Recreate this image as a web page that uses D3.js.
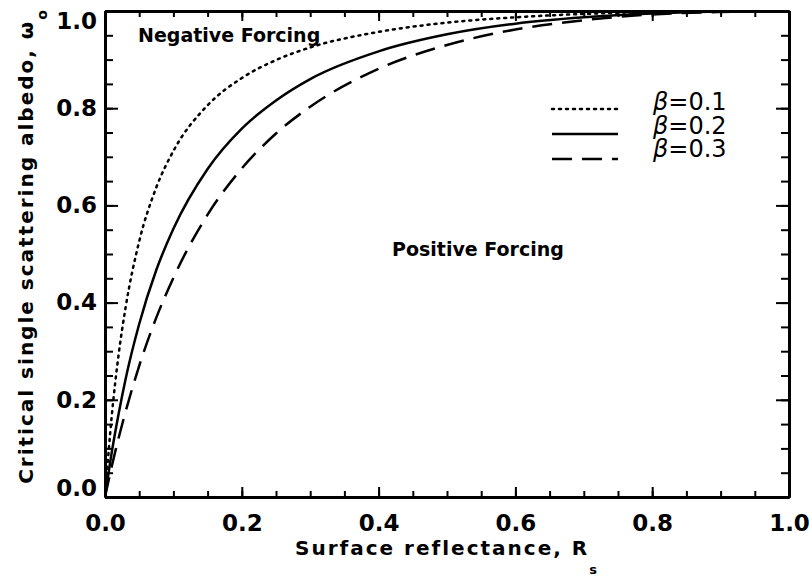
<!DOCTYPE html>
<html>
<head>
<meta charset="utf-8">
<script src="https://cdn.jsdelivr.net/npm/d3@7"></script>
<style>
  body { margin: 0; background: #fff; }
  svg { display: block; }
  text { font-family: "DejaVu Sans", sans-serif; fill: #000; }
</style>
</head>
<body>
<svg id="chart" width="809" height="579"></svg>
<script>
// surface reflectance values where the curves were read
const reflectance = [0, 0.01, 0.02, 0.03, 0.05, 0.075, 0.1, 0.15, 0.2, 0.25, 0.3, 0.4, 0.5, 0.6, 0.7, 0.8, 0.9, 1.0];
// critical single scattering albedo for each beta
const beta01 = [0, 0.169, 0.294, 0.389, 0.526, 0.637, 0.712, 0.806, 0.862, 0.899, 0.925, 0.957, 0.976, 0.987, 0.994, 0.998, 0.999, 1.0];
const beta02 = [0, 0.093, 0.172, 0.242, 0.356, 0.467, 0.552, 0.675, 0.758, 0.816, 0.860, 0.917, 0.952, 0.974, 0.987, 0.995, 0.999, 1.0];
const beta03 = [0, 0.064, 0.122, 0.175, 0.270, 0.369, 0.451, 0.581, 0.676, 0.748, 0.803, 0.881, 0.930, 0.962, 0.981, 0.993, 0.998, 1.0];
const seriesNames = ["=0.1", "=0.2", "=0.3"];
const majorTicks = [0, 0.2, 0.4, 0.6, 0.8, 1.0];

const plotLeft = 105, plotRight = 789, plotTop = 11, plotBottom = 497;
const svg = d3.select("#chart");

const x = d3.scaleLinear().domain([0, 1]).range([plotLeft, plotRight]);
const y = d3.scaleLinear().domain([0, 1]).range([plotBottom, plotTop]);
const minorTicks = d3.range(0, 1.0001, 0.05);
const fmt = d3.format(".1f");

const series = [
    {name: seriesNames[0], values: beta01, dash: "2,5", cap: "round"},
    {name: seriesNames[1], values: beta02, dash: null, cap: "butt"},
    {name: seriesNames[2], values: beta03, dash: "20,10", cap: "butt"}
];

svg.append("clipPath").attr("id", "plot")
    .append("rect")
    .attr("x", plotLeft).attr("y", plotTop)
    .attr("width", plotRight - plotLeft).attr("height", plotBottom - plotTop);

const line = d3.line()
    .x((d, i) => x(reflectance[i]))
    .y((d) => y(d))
    .curve(d3.curveMonotoneX);

svg.append("g").attr("clip-path", "url(#plot)")
    .selectAll("path")
    .data(series)
    .enter().append("path")
    .attr("d", (d) => line(d.values))
    .attr("fill", "none")
    .attr("stroke", "#000")
    .attr("stroke-width", 2.5)
    .attr("stroke-linecap", (d) => d.cap)
    .attr("stroke-dasharray", (d) => d.dash);

// axes, ticks pointing inwards on all four sides
const styleAxis = (g) => {
    g.select(".domain").attr("stroke-width", 3);
    g.selectAll(".tick line").attr("stroke-width", 2);
    g.selectAll("text")
        .style("font-family", "'DejaVu Sans', sans-serif")
        .style("font-weight", "bold")
        .style("font-size", "23px");
};

svg.append("g")
    .attr("transform", `translate(0,${plotBottom})`)
    .call(d3.axisBottom(x).tickValues(majorTicks).tickFormat(fmt)
        .tickSizeInner(-10).tickSizeOuter(0).tickPadding(18))
    .call(styleAxis);
svg.append("g")
    .attr("transform", `translate(0,${plotBottom})`)
    .call(d3.axisBottom(x).tickValues(minorTicks).tickFormat("")
        .tickSizeInner(-6).tickSizeOuter(0))
    .call(styleAxis);

svg.append("g")
    .attr("transform", `translate(0,${plotTop})`)
    .call(d3.axisTop(x).tickValues(majorTicks).tickFormat("")
        .tickSizeInner(-10).tickSizeOuter(0))
    .call(styleAxis);
svg.append("g")
    .attr("transform", `translate(0,${plotTop})`)
    .call(d3.axisTop(x).tickValues(minorTicks).tickFormat("")
        .tickSizeInner(-6).tickSizeOuter(0))
    .call(styleAxis);

const yAxis = svg.append("g")
    .attr("transform", `translate(${plotLeft},0)`)
    .call(d3.axisLeft(y).tickValues(majorTicks).tickFormat(fmt)
        .tickSizeInner(-13).tickSizeOuter(0).tickPadding(8))
    .call(styleAxis);
// end labels are pulled inside the frame
yAxis.selectAll(".tick text")
    .attr("dy", (d) => d === 1 ? "0.75em" : d === 0 ? "-0.05em" : "0.32em");
svg.append("g")
    .attr("transform", `translate(${plotLeft},0)`)
    .call(d3.axisLeft(y).tickValues(minorTicks).tickFormat("")
        .tickSizeInner(-8).tickSizeOuter(0))
    .call(styleAxis);

svg.append("g")
    .attr("transform", `translate(${plotRight},0)`)
    .call(d3.axisRight(y).tickValues(majorTicks).tickFormat("")
        .tickSizeInner(-13).tickSizeOuter(0))
    .call(styleAxis);
svg.append("g")
    .attr("transform", `translate(${plotRight},0)`)
    .call(d3.axisRight(y).tickValues(minorTicks).tickFormat("")
        .tickSizeInner(-8).tickSizeOuter(0))
    .call(styleAxis);

// axis titles
const xTitle = svg.append("text")
    .attr("x", (plotLeft + plotRight) / 2).attr("y", 555)
    .attr("text-anchor", "middle")
    .style("font-size", "20px").style("font-weight", "bold")
    .style("letter-spacing", "2px")
    .text("Surface reflectance, R");
xTitle.append("tspan").attr("dy", 19).style("font-size", "13px").text("s");

const yTitle = svg.append("text")
    .attr("transform", `translate(33,${(plotTop + plotBottom) / 2 - 8}) rotate(-90)`)
    .attr("text-anchor", "middle")
    .style("font-size", "20px").style("font-weight", "bold")
    .style("letter-spacing", "2px")
    .text("Critical single scattering albedo, \u03c9");
yTitle.append("tspan").attr("dy", 14).style("font-size", "14px").text("o");

// region labels
svg.append("text")
    .attr("x", 138).attr("y", 42)
    .style("font-size", "19px").style("font-weight", "bold")
    .text("Negative Forcing");
svg.append("text")
    .attr("x", 392).attr("y", 256)
    .style("font-size", "19px").style("font-weight", "bold")
    .text("Positive Forcing");

// legend
const legend = svg.append("g")
    .selectAll("g")
    .data(series)
    .enter().append("g")
    .attr("transform", (d, i) => `translate(0,${110 + i * 23.5})`);
legend.append("line")
    .attr("x1", 552).attr("x2", 618)
    .attr("y1", (d, i) => -1 + i * 1.5)
    .attr("y2", (d, i) => -1 + i * 1.5)
    .attr("stroke", "#000")
    .attr("stroke-width", 2.5)
    .attr("stroke-linecap", (d) => d.cap)
    .attr("stroke-dasharray", (d) => d.dash);
const legendText = legend.append("text")
    .attr("x", 653).attr("y", 0)
    .style("font-size", "24px");
legendText.append("tspan").style("font-style", "italic").text("\u03b2");
legendText.append("tspan").text((d) => d.name);
</script>
</body>
</html>
